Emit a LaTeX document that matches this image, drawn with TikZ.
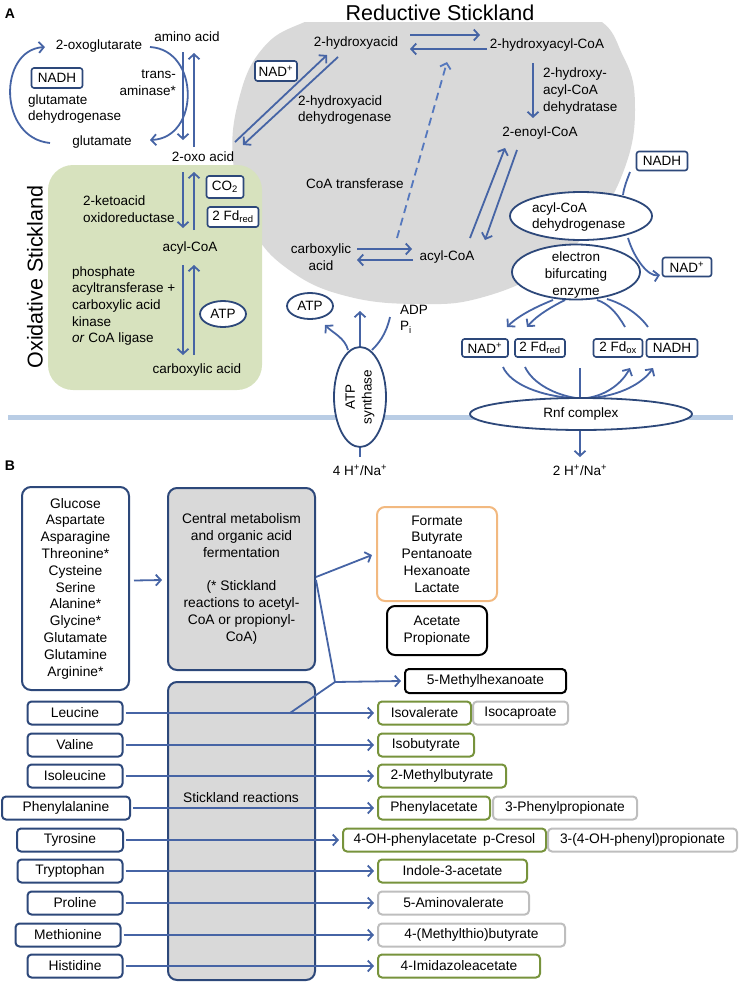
\documentclass[tikz,border=0pt]{standalone}
\usepackage{fontspec}
\setmainfont{Liberation Sans}
\usetikzlibrary{arrows.meta,shapes.geometric,backgrounds}
\definecolor{arrblue}{RGB}{70,100,165}
\definecolor{dashblue}{RGB}{85,120,190}
\definecolor{boxblue}{RGB}{45,72,122}
\definecolor{greyfill}{RGB}{217,217,217}
\definecolor{greenfill}{RGB}{215,226,190}
\definecolor{membr}{RGB}{185,205,229}
\definecolor{orangeb}{RGB}{242,185,128}
\definecolor{greenb}{RGB}{119,147,60}
\definecolor{greyb}{RGB}{190,190,190}
\begin{document}
\begin{tikzpicture}[x=1pt,y=-1pt,
  tx/.style={font=\fontsize{13.5}{16.7}\selectfont, inner sep=0pt, align=center},
  txl/.style={tx, align=left},
  bx/.style={tx, draw=boxblue, line width=1.6pt, rounded corners=2.5pt, fill=white, minimum height=19pt},
  ell/.style={tx, ellipse, draw=boxblue, line width=1.8pt, fill=white, inner sep=0pt},
  arr/.style={draw=arrblue, line width=1.8pt, -{Straight Barb[length=5pt,width=11pt]}},
  ln/.style={draw=arrblue, line width=1.8pt},
  btx/.style={font=\fontsize{13.8}{16.8}\selectfont, inner sep=0pt, align=center},
  bbx/.style={btx, draw=boxblue, line width=2pt, rounded corners=4pt, fill=white, minimum height=23pt},
  gbx/.style={btx, draw=greenb, line width=2pt, rounded corners=4pt, fill=white, minimum height=23pt},
  ybx/.style={btx, draw=greyb, line width=2pt, rounded corners=4pt, fill=white, minimum height=23pt},
  kbx/.style={btx, draw=black, line width=2pt, rounded corners=4pt, fill=white, minimum height=24pt},
  lab/.style={font=\bfseries\fontsize{14}{16}\selectfont, inner sep=0pt},
  big/.style={font=\fontsize{21.5}{24}\selectfont, inner sep=0pt}
]
\useasboundingbox (0,0) rectangle (740,983);
\begin{pgfonlayer}{background}
  \begin{scope}
    \clip (0,22) rectangle (740,420);
    \fill[greyfill] plot[smooth cycle, tension=0.7] coordinates {
      (350,12) (470,8) (585,14) (624,58) (635,110) (624,170) (592,226)
      (545,270) (480,298) (420,304) (350,297) (292,272) (252,228)
      (233,160) (240,95) (263,48) (300,24)};
  \end{scope}
  \fill[greenfill, rounded corners=25pt] (48,165) rectangle (262,390);
  \draw[membr, line width=5pt] (8,417) -- (733,417);
\end{pgfonlayer}

% ---------------- Panel A nodes ----------------
\node[lab] (labA) at (10,14) {A};
\node[big] (title) at (440,13) {Reductive Stickland};
\node[tx] (oxg) at (99,46) {2-oxoglutarate};
\node[tx] (amino) at (187,37) {amino acid};
\node[bx, minimum width=51pt, minimum height=20pt] (nadh1) at (57,78) {NADH};
\node[txl, anchor=west] (gdh) at (28,109) {glutamate\\dehydrogenase};
\node[tx, align=right, anchor=east] (trans) at (176,83) {trans-\\aminase*};
\node[tx] (glu) at (102,142) {glutamate};
\node[tx] (oxo) at (203,157) {2-oxo acid};
\node[txl, anchor=west] (kor) at (83,209) {2-ketoacid\\oxidoreductase};
\node[bx, minimum width=37pt, minimum height=22pt] (co2) at (225,187) {CO\textsubscript{2}};
\node[bx, minimum width=51pt, minimum height=20pt] (fd1) at (233,217) {2 Fd\textsubscript{red}};
\node[tx] (acyl) at (190,248) {acyl-CoA};
\node[txl, anchor=west] (pta) at (72,306) {phosphate\\acyltransferase +\\carboxylic acid\\kinase\\\textit{or} CoA ligase};
\node[ell, minimum width=46pt, minimum height=26pt] (atp1) at (223,314) {ATP};
\node[tx] (carb) at (197,370) {carboxylic acid};
\node[big, rotate=90] (oxst) at (35,277) {Oxidative Stickland};

\node[bx, minimum width=42pt, minimum height=20pt] (nad1) at (276,71) {NAD\textsuperscript{+}};
\node[tx] (hyd) at (356,43) {2-hydroxyacid};
\node[txl, anchor=west] (hdh) at (298,110) {2-hydroxyacid\\dehydrogenase};
\node[tx] (hcoa) at (547,45) {2-hydroxyacyl-CoA};
\node[txl, anchor=west] (hcd) at (543,91) {2-hydroxy-\\acyl-CoA\\dehydratase};
\node[tx] (enoyl) at (540,133) {2-enoyl-CoA};
\node[tx] (coat) at (355,184) {CoA transferase};
\node[tx] (carb2) at (321,257) {carboxylic\\acid};
\node[tx] (acyl2) at (447,257) {acyl-CoA};

\node[bx, minimum width=51pt] (nadh2) at (662,161) {NADH};
\node[ell, minimum width=142pt, minimum height=48pt] (acd) at (581,216) {};
\node[txl, anchor=west] (acdt) at (532,217) {acyl-CoA\\dehydrogenase};
\node[bx, minimum width=49pt] (nad2) at (687,267) {NAD\textsuperscript{+}};
\node[ell, minimum width=128pt, minimum height=55pt] (bif) at (576,272) {};
\node[tx] (bift) at (576,275) {electron\\bifurcating\\enzyme};

\node[ell, minimum width=46pt, minimum height=26pt] (atp2) at (310,306) {ATP};
\node[txl, anchor=west] (adp) at (400,319) {ADP\\P\textsubscript{i}};
\node[ell, minimum width=52pt, minimum height=100pt] (atps) at (360,397) {};
\node[tx, rotate=90] (atpst) at (360,397) {ATP\\synthase};

\node[bx, minimum width=46pt, minimum height=18pt] (nad3) at (485,348) {NAD\textsuperscript{+}};
\node[bx, minimum width=50pt, minimum height=18pt] (fdr) at (540,348) {2 Fd\textsubscript{red}};
\node[bx, minimum width=49pt, minimum height=18pt] (fdox) at (618,348) {2 Fd\textsubscript{ox}};
\node[bx, minimum width=51pt, minimum height=18pt] (nadh3) at (672,348) {NADH};
\node[ell, minimum width=222pt, minimum height=32pt] (rnf) at (581,414) {Rnf complex};
\node[tx] (h4) at (360,470) {4 H\textsuperscript{+}/Na\textsuperscript{+}};
\node[tx] (h2) at (580,470) {2 H\textsuperscript{+}/Na\textsuperscript{+}};

% ---------------- Panel A connectors ----------------
\begin{pgfonlayer}{background}
\draw[arr] ([shift={(-52,1)}]glu.center) .. controls +(-52,-5) and +(-47,3) .. ([shift={(-54,1)}]oxg.center);
\draw[arr] ([shift={(51,1)}]oxg.center) .. controls +(50,3) and +(50,-2) .. ([shift={(48,-2)}]glu.center);
\draw[arr] ([shift={(-4,15)}]amino.center) -- ([shift={(-20,-17)}]oxo.center);
\draw[arr] ([shift={(-9,-10)}]oxo.center) -- ([shift={(7,16)}]amino.center);
\draw[arr] ([shift={(-20,15)}]oxo.center) -- ([shift={(-7,-20)}]acyl.center);
\draw[arr] ([shift={(4,-18)}]acyl.center) -- ([shift={(-9,15)}]oxo.center);
\draw[arr] ([shift={(-7,17)}]acyl.center) -- ([shift={(-14,-15)}]carb.center);
\draw[arr] ([shift={(-3,-15)}]carb.center) -- ([shift={(4,17)}]acyl.center);
\draw[arr] ([shift={(32,-15)}]oxo.center) -- ([shift={(-29,12)}]hyd.center);
\draw[arr] ([shift={(-18,14)}]hyd.center) -- ([shift={(40,-12)}]oxo.center);
\draw[arr] ([shift={(54,-8)}]hyd.center) -- ([shift={(-67,-10)}]hcoa.center);
\draw[arr] ([shift={(-60,4)}]hcoa.center) -- ([shift={(54,6)}]hyd.center);
\draw[arr] ([shift={(-14,18)}]hcoa.center) -- ([shift={(-7,-15)}]enoyl.center);
\draw[arr] ([shift={(23,-19)}]acyl2.center) -- ([shift={(-35,15)}]enoyl.center);
\draw[arr] ([shift={(-23,17)}]enoyl.center) -- ([shift={(38,-17)}]acyl2.center);
\draw[arr, draw=dashblue, dash pattern=on 8pt off 5pt] ([shift={(-50,-19)}]acyl2.center) -- ([shift={(91,19)}]hyd.center);
\draw[arr] ([shift={(36,-8)}]carb2.center) -- ([shift={(-35,-8)}]acyl2.center);
\draw[arr] ([shift={(-34,3)}]acyl2.center) -- ([shift={(36,3)}]carb2.center);

\draw[ln] ([shift={(-32,11)}]nadh2.center) .. controls +(-3,8) and +(1,-8) .. ([shift={(42,-21)}]acd.center);
\draw[arr] ([shift={(47,22)}]acd.center) .. controls +(6,20) and +(-12,2) .. ([shift={(-27,8)}]nad2.center);
\draw[arr] ([shift={(-23,28)}]bif.center) .. controls +(-15,6) and +(12,-12) .. ([shift={(22,-21)}]nad3.center);
\draw[arr] ([shift={(-11,28)}]bif.center) .. controls +(-12,6) and +(10,-12) .. ([shift={(-13,-21)}]fdr.center);
\draw[ln] ([shift={(7,-21)}]fdox.center) .. controls +(-8,-14) and +(12,4) .. ([shift={(21,28)}]bif.center);
\draw[ln] ([shift={(-24,-21)}]nadh3.center) .. controls +(-10,-14) and +(14,4) .. ([shift={(31,27)}]bif.center);
\draw[ln] ([shift={(18,19)}]nad3.center) .. controls +(8,18) and +(-30,-2) .. ([shift={(-9,-16)}]rnf.center);
\draw[ln] ([shift={(-15,19)}]fdr.center) .. controls +(8,17) and +(-20,-3) .. ([shift={(-5,-16)}]rnf.center);
\draw[arr] ([shift={(6,-16)}]rnf.center) .. controls +(20,-3) and +(-8,15) .. ([shift={(12,20)}]fdox.center);
\draw[arr] ([shift={(9,-16)}]rnf.center) .. controls +(30,-2) and +(-10,15) .. ([shift={(-19,20)}]nadh3.center);
\draw[arr] ([shift={(-1,-46)}]rnf.center) -- ([shift={(0,-13)}]h2.center);

\draw[arr] (atps.north) -- ([shift={(50,5)}]atp2.center);
\draw[arr] ([shift={(-12,-47)}]atps.center) .. controls +(-3,-12) and +(8,8) .. ([shift={(15,19)}]atp2.center);
\draw[ln] ([shift={(-10,-2)}]adp.west) .. controls +(-4,18) and +(6,-6) .. ([shift={(12,-47)}]atps.center);
\draw[ln] (atps.south) -- ([shift={(0,-13)}]h4.center);
\end{pgfonlayer}

% ---------------- Panel B ----------------
\node[lab] (labB) at (10,466) {B};
\node[bbx, minimum width=107pt, minimum height=203pt, rounded corners=9pt] (src) at (75.5,588.5) {Glucose\\Aspartate\\Asparagine\\Threonine*\\Cysteine\\Serine\\Alanine*\\Glycine*\\Glutamate\\Glutamine\\Arginine*};
\node[bbx, fill=greyfill, minimum width=147pt, minimum height=182pt, rounded corners=9pt] (cen) at (241.5,579) {Central metabolism\\and organic acid\\fermentation\\\mbox{}\\(* Stickland\\reactions to acetyl-\\CoA or propionyl-\\CoA)};
\node[bbx, fill=greyfill, minimum width=147pt, minimum height=298pt, rounded corners=9pt] (stk) at (241.5,831) {};
\node[btx] (stkt) at (241,798) {Stickland reactions};
\node[bbx, draw=orangeb, minimum width=120pt, minimum height=94pt, rounded corners=8pt] (orng) at (437,554) {Formate\\Butyrate\\Pentanoate\\Hexanoate\\Lactate};
\node[kbx, minimum width=100pt, minimum height=49pt, rounded corners=8pt] (acet) at (437,630.5) {Acetate\\Propionate};
\node[kbx, minimum width=161pt] (mhex) at (485.5,681) {5-Methylhexanoate};

\node[bbx, minimum width=95pt] (leu) at (75,713) {Leucine};
\node[bbx, minimum width=95pt] (val) at (75,745) {Valine};
\node[bbx, minimum width=95pt] (ile) at (75,776) {Isoleucine};
\node[bbx, minimum width=128pt] (phe) at (66,808) {Phenylalanine};
\node[bbx, minimum width=106pt] (tyr) at (70,840) {Tyrosine};
\node[bbx, minimum width=105pt] (trp) at (70,871) {Tryptophan};
\node[bbx, minimum width=95pt] (pro) at (75,903) {Proline};
\node[bbx, minimum width=105pt] (met) at (68,935) {Methionine};
\node[bbx, minimum width=95pt] (his) at (75,966) {Histidine};

\node[gbx, minimum width=93pt] (isov) at (424.5,713) {Isovalerate};
\node[ybx, minimum width=95pt] (isoc) at (520.5,713) {Isocaproate};
\node[gbx, minimum width=96pt] (isob) at (426,745) {Isobutyrate};
\node[gbx, minimum width=128pt] (mbut) at (442,776) {2-Methylbutyrate};
\node[gbx, minimum width=112pt] (phac) at (434,808) {Phenylacetate};
\node[ybx, minimum width=144pt] (ppro) at (565,808) {3-Phenylpropionate};
\node[gbx, minimum width=203pt] (ohpa) at (444.5,840) {4-OH-phenylacetate\hspace{6pt}p-Cresol};
\node[ybx, minimum width=189pt] (ohpp) at (642.5,840) {3-(4-OH-phenyl)propionate};
\node[gbx, minimum width=149pt] (indo) at (452.5,871) {Indole-3-acetate};
\node[ybx, minimum width=151pt] (amv) at (453.5,903) {5-Aminovalerate};
\node[ybx, minimum width=187pt] (mtb) at (471.5,935) {4-(Methylthio)butyrate};
\node[gbx, minimum width=162pt] (imid) at (459,966) {4-Imidazoleacetate};

\draw[arr] ([shift={(4,-8)}]src.east) -- ([shift={(-5,1)}]cen.west);
\draw[arr] ([shift={(0,-2)}]cen.east) -- ([shift={(-4,1)}]orng.west);
\coordinate (br) at (335,682);
\coordinate (lb) at (290,713);
\draw[ln] ([shift={(0,1)}]cen.east) -- (br);
\draw[ln] (lb) -- (br);
\draw[arr] (br) -- ([xshift=-3pt]mhex.west);
\draw[arr] ([xshift=2pt]leu.east) -- ([xshift=-3pt]isov.west);
\draw[arr] ([xshift=2pt]val.east) -- ([xshift=-3pt]isob.west);
\draw[arr] ([xshift=2pt]ile.east) -- ([xshift=-3pt]mbut.west);
\draw[arr] ([xshift=2pt]phe.east) -- ([xshift=-3pt]phac.west);
\draw[arr] ([xshift=2pt]tyr.east) -- ([xshift=-3pt]ohpa.west);
\draw[arr] ([xshift=2pt]trp.east) -- ([xshift=-3pt]indo.west);
\draw[arr] ([xshift=2pt]pro.east) -- ([xshift=-3pt]amv.west);
\draw[arr] ([xshift=2pt]met.east) -- ([xshift=-3pt]mtb.west);
\draw[arr] ([xshift=2pt]his.east) -- ([xshift=-3pt]imid.west);
\end{tikzpicture}
\end{document}
